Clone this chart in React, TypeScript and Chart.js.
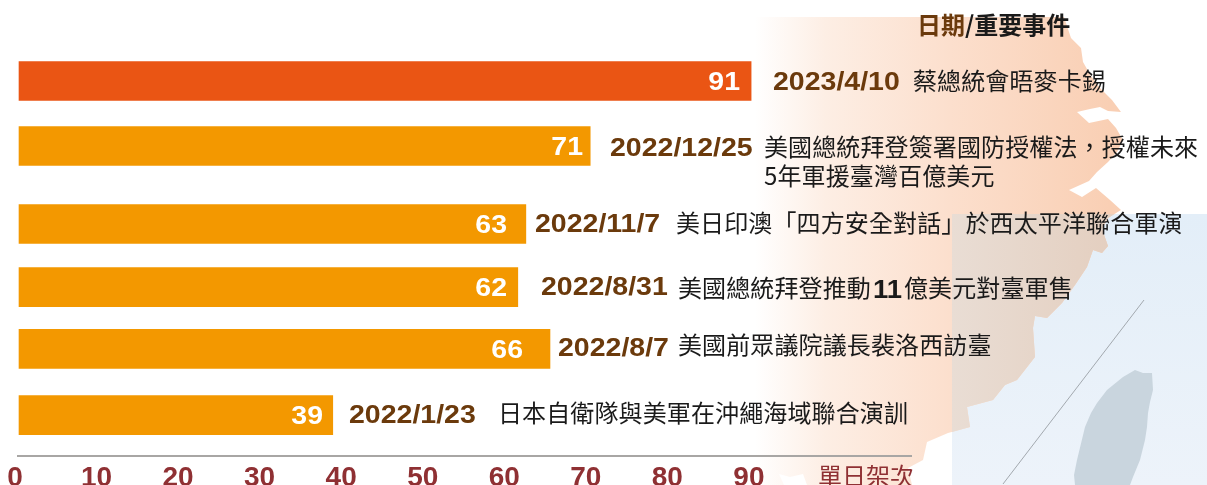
import React, { useEffect, useRef } from "react";
import { Chart, registerables } from "chart.js";

Chart.register(...registerables);

// ---- data ----
const sorties = [91, 71, 63, 62, 66, 39];
const dates = ["2023/4/10", "2022/12/25", "2022/11/7", "2022/8/31", "2022/8/7", "2022/1/23"];
const events = [
  "蔡總統會晤麥卡錫",
  "美國總統拜登簽署國防授權法，授權未來",
  "美日印澳「四方安全對話」於西太平洋聯合軍演",
  "美國總統拜登推動|11|億美元對臺軍售",
  "美國前眾議院議長裴洛西訪臺",
  "日本自衛隊與美軍在沖繩海域聯合演訓",
];
const eventSecondLines = ["", "5年軍援臺灣百億美元", "", "", "", ""];
const tickValues = [0, 10, 20, 30, 40, 50, 60, 70, 80, 90];
const axisTitle = "單日架次";
const headerDate = "日期";
const headerEvent = "/重要事件";

// ---- layout (row spacing in row units, label anchors in pixels) ----
const rowPositions = [0, 1, 2.2, 3.17, 4.12, 5.14];
const valueRight = [740, 583, 507, 507, 523, 323];
const dateLeft = [773, 610, 535, 541, 558, 349];
const eventLeft = [913, 764, 676, 678, 678, 498];
const dateNudge = [0, 1, -1, -1, -2, -1];
const eventNudge = [0, 1, -1, 1, -4, -2];
const coast: [number, number][] = [
  [755, 17], [1064, 17], [1071, 38], [1081, 48], [1083, 62], [1091, 76], [1100, 88], [1112, 100], [1121, 112], [1108, 111], [1100, 107], [1090, 109], [1077, 112],
  [1089, 123], [1108, 119], [1116, 128], [1123, 140], [1117, 152], [1108, 162], [1097, 172], [1089, 181], [1069, 190], [1082, 197], [1096, 188],
  [1110, 200], [1121, 210], [1108, 218], [1102, 229], [1108, 246], [1102, 253], [1093, 250], [1087, 267], [1075, 285], [1062, 303], [1047, 318],
  [1035, 316], [1033, 328], [1035, 357], [1017, 380], [1005, 385], [993, 400], [967, 407], [970, 427], [948, 433], [927, 442], [923, 460],
  [908, 468], [912, 485], [807, 485], [803, 474], [790, 477], [779, 474], [784, 485], [755, 485],
];
const taiwan: [number, number][] = [
  [1135, 370], [1143, 373], [1152, 373], [1153, 390], [1150, 402], [1148, 413], [1147, 427], [1145, 440], [1140, 460], [1133, 477], [1130, 485], [1075, 485],
  [1074, 475], [1077, 460], [1085, 427], [1091, 413], [1097, 403], [1107, 390], [1123, 377],
];

const SANS = '"Liberation Sans", Arial, sans-serif';
const CJK = '"Noto Sans CJK TC", sans-serif';
const BROWN = "#6b3a0c";
const RED = "#8f3033";

function poly(ctx: CanvasRenderingContext2D, pts: [number, number][]) {
  ctx.beginPath();
  pts.forEach(([x, y], i) => (i ? ctx.lineTo(x, y) : ctx.moveTo(x, y)));
  ctx.closePath();
}

// Latin glyphs in the reference are set wider than the font's natural width.
function wideText(ctx: CanvasRenderingContext2D, text: string, x: number, y: number, sx: number, align: "left" | "right") {
  ctx.save();
  ctx.translate(x, y);
  ctx.scale(sx, 1);
  ctx.textAlign = align;
  ctx.fillText(text, 0, 0);
  ctx.restore();
}

const backdrop = {
  id: "backdrop",
  beforeDraw(chart: any) {
    const ctx: CanvasRenderingContext2D = chart.ctx;
    ctx.save();
    ctx.fillStyle = "#ffffff";
    ctx.fillRect(0, 0, 1207, 485);
    const sea = ctx.createLinearGradient(0, 214, 0, 485);
    sea.addColorStop(0, "#e3eef8");
    sea.addColorStop(1, "#edf3fa");
    ctx.fillStyle = sea;
    ctx.fillRect(952, 214, 255, 271);

    const land = ctx.createLinearGradient(755, 0, 1110, 0);
    land.addColorStop(0, "#ffffff");
    land.addColorStop(0.2, "#fdeee4");
    land.addColorStop(0.55, "#fcdfcd");
    land.addColorStop(1, "#f9cfb4");
    ctx.fillStyle = land;
    poly(ctx, coast);
    ctx.fill();

    // land seen through the sea panel
    ctx.save();
    ctx.beginPath();
    ctx.rect(952, 214, 255, 271);
    ctx.clip();
    const tinted = ctx.createLinearGradient(952, 0, 1110, 0);
    tinted.addColorStop(0, "#e9ddd4");
    tinted.addColorStop(1, "#e4cfc0");
    ctx.fillStyle = tinted;
    poly(ctx, coast);
    ctx.fill();
    ctx.restore();

    ctx.fillStyle = "#c9d5de";
    poly(ctx, taiwan);
    ctx.fill();
    ctx.strokeStyle = "#a3a9af";
    ctx.lineWidth = 1;
    ctx.beginPath();
    ctx.moveTo(1144, 300);
    ctx.lineTo(1003, 484);
    ctx.stroke();
    ctx.restore();
  },
};

const annotations = {
  id: "annotations",
  afterDatasetsDraw(chart: any) {
    const ctx: CanvasRenderingContext2D = chart.ctx;
    const x = chart.scales.x;
    const bars = chart.getDatasetMeta(0).data;
    ctx.save();
    ctx.textBaseline = "middle";

    // axis rule
    ctx.strokeStyle = "#a8a6a4";
    ctx.lineWidth = 2;
    ctx.beginPath();
    ctx.moveTo(x.getPixelForValue(0) - 2, chart.chartArea.bottom);
    ctx.lineTo(chart.chartArea.right, chart.chartArea.bottom);
    ctx.stroke();

    bars.forEach((bar: any, i: number) => {
      const y = bar.y;
      ctx.font = `bold 25px ${SANS}`;
      ctx.fillStyle = "#ffffff";
      wideText(ctx, String(sorties[i]), valueRight[i], y + 2, 1.14, "right");
      ctx.fillStyle = BROWN;
      wideText(ctx, dates[i], dateLeft[i], y + 2 + dateNudge[i], 1.14, "left");

      ctx.fillStyle = "#1a1a1a";
      let cursor = eventLeft[i];
      const ey = y + eventNudge[i];
      ctx.textAlign = "left";
      (ctx as any).letterSpacing = "0.12px";
      events[i].split("|").forEach((part, k) => {
        if (k === 1) {
          ctx.font = `bold 25px ${SANS}`;
          wideText(ctx, part, cursor + 2, ey + 3, 1.1, "left");
          cursor += 33;
        } else {
          ctx.font = `24px ${CJK}`;
          ctx.fillText(part, cursor, ey);
          cursor += ctx.measureText(part).width;
        }
      });
      if (eventSecondLines[i]) {
        ctx.font = `24px ${CJK}`;
        ctx.fillText(eventSecondLines[i], eventLeft[i], ey + 29);
      }
      (ctx as any).letterSpacing = "0px";
    });

    // header
    ctx.textAlign = "left";
    ctx.font = `bold 24px ${CJK}`;
    ctx.fillStyle = BROWN;
    ctx.fillText(headerDate, 917, 25);
    const w = ctx.measureText(headerDate).width;
    ctx.fillStyle = "#1a1a1a";
    ctx.fillText(headerEvent, 917 + w, 25);

    // axis unit
    ctx.font = `24px ${CJK}`;
    ctx.fillStyle = RED;
    ctx.fillText(axisTitle, 818, 476);
    ctx.restore();
  },
};

export default function App() {
  const ref = useRef<HTMLCanvasElement | null>(null);
  useEffect(() => {
    document.body.style.margin = "0";
    const chart = new Chart(ref.current!, {
      type: "bar",
      data: {
        datasets: [
          {
            data: sorties.map((v, i) => ({ x: v, y: rowPositions[i] })),
            backgroundColor: sorties.map((_, i) => (i === 0 ? "#ea5514" : "#f39800")),
            barThickness: 39,
            borderWidth: 0,
          },
        ],
      },
      plugins: [backdrop, annotations],
      options: {
        indexAxis: "y",
        responsive: false,
        animation: false,
        layout: { padding: { left: 10, right: 295, top: 0, bottom: 0 } },
        plugins: { legend: { display: false }, tooltip: { enabled: false }, title: { display: false } },
        scales: {
          // value scale of the bars
          x: { type: "linear", min: -1.12, max: 111, display: false, grid: { display: false } },
          // printed tick labels, which sit on a slightly wider pitch than the bars
          x2: {
            type: "linear",
            position: "bottom",
            min: -0.61,
            max: 110,
            grid: { display: false, drawTicks: false },
            border: { display: false },
            afterBuildTicks: (s: any) => {
              s.ticks = tickValues.map((value) => ({ value }));
            },
            afterFit: (s: any) => {
              s.height = 29;
            },
            ticks: {
              autoSkip: false,
              maxRotation: 0,
              padding: 5,
              color: RED,
              font: { family: SANS, size: 28, weight: "bold" },
            },
          },
          y: {
            type: "linear",
            reverse: true,
            offset: false,
            min: -1.246,
            max: 5.769,
            display: false,
            grid: { display: false },
          },
        },
      } as any,
    });
    return () => chart.destroy();
  }, []);
  return <canvas ref={ref} width={1207} height={485} style={{ display: "block" }} />;
}
